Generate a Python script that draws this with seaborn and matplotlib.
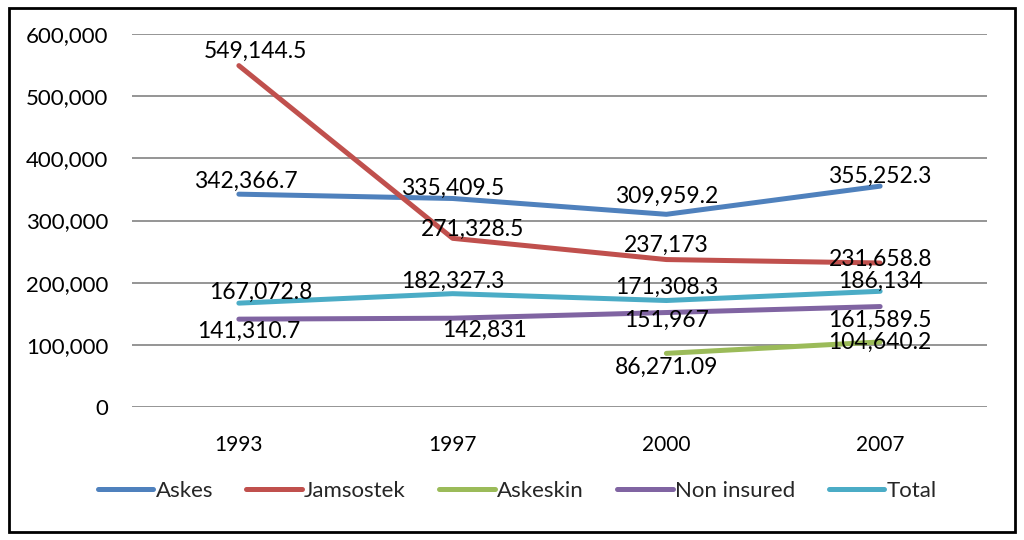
import pandas as pd
import numpy as np
import matplotlib
matplotlib.use("Agg")
import matplotlib.pyplot as plt
import seaborn as sns
from matplotlib.patches import Rectangle
from matplotlib.ticker import FuncFormatter

years = ["1993", "1997", "2000", "2007"]
askes = [342366.7, 335409.5, 309959.2, 355252.3]
jamsostek = [549144.5, 271328.5, 237173, 231658.8]
askeskin = [np.nan, np.nan, 86271.09, 104640.2]
non_insured = [141310.7, 142831, 151967, 161589.5]
total = [167072.8, 182327.3, 171308.3, 186134]

labels = {
    "Askes": ["342,366.7", "335,409.5", "309,959.2", "355,252.3"],
    "Jamsostek": ["549,144.5", "271,328.5", "237,173", "231,658.8"],
    "Askeskin": [None, None, "86,271.09", "104,640.2"],
    "Non insured": ["141,310.7", "142,831", "151,967", "161,589.5"],
    "Total": ["167,072.8", "182,327.3", "171,308.3", "186,134"],
}
# label offsets in pixels (dx, dy)
offsets = {
    "Askes": [(7, 13), (0, 10), (0, 18), (0, 10)],
    "Jamsostek": [(17, 14), (20, 9), (0, 14), (0, 4)],
    "Askeskin": [None, None, (0, -14), (0, 0)],
    "Non insured": [(10, -12), (32, -12), (0, -8), (0, -14)],
    "Total": [(22, 11), (0, 12), (0, 13), (0, 10)],
}

series = {"Askes": askes, "Jamsostek": jamsostek, "Askeskin": askeskin,
          "Non insured": non_insured, "Total": total}
colors = ["#4F81BD", "#C0504D", "#9BBB59", "#8064A2", "#4BACC6"]

rows = []
for name, vals in series.items():
    for y, v in zip(years, vals):
        rows.append({"Year": y, "Value": v, "Series": name})
df = pd.DataFrame(rows)

sns.set_style("white")
plt.rcParams["font.family"] = ["Lato", "DejaVu Sans"]

fig = plt.figure(figsize=(10.24, 5.4), dpi=100)
ax = fig.add_axes([132 / 1024, 1 - 407 / 540, (987 - 132) / 1024, (407 - 34) / 540])

sns.lineplot(data=df.dropna(), x="Year", y="Value", hue="Series",
             palette=colors, linewidth=3.6, sort=False, ax=ax)

ax.set_xlim(-0.5, 3.5)
ax.set_ylim(0, 600000)
ax.set_yticks(range(0, 600001, 100000))
ax.yaxis.set_major_formatter(FuncFormatter(lambda v, p: f"{int(v):,}"))
ax.grid(axis="y", color="#8c8c8c", linewidth=1.3)
ax.set_axisbelow(True)
for s in ax.spines.values():
    s.set_visible(False)
ax.tick_params(axis="y", length=0, labelsize=16, colors="black", pad=17)
ax.tick_params(axis="x", length=0, labelsize=15, colors="black", pad=20)
ax.set_xlabel("")
ax.set_ylabel("")

for name, vals in series.items():
    for i, v in enumerate(vals):
        if labels[name][i] is None:
            continue
        dx, dy = offsets[name][i]
        ax.annotate(labels[name][i], (years[i], v), xytext=(dx, dy),
                    textcoords="offset pixels", ha="center", va="center",
                    fontsize=16.5, color="black")

sns.move_legend(ax, "center", bbox_to_anchor=(0.505, 1 - 491 / 540),
                bbox_transform=fig.transFigure, ncol=5, frameon=False,
                title=None, fontsize=16, handlelength=2.5, handletextpad=0.1,
                columnspacing=1.5)

fig.patches.append(Rectangle((9 / 1024, 1 - 532 / 540), 1006 / 1024, 524 / 540,
                             transform=fig.transFigure, fill=False,
                             edgecolor="black", linewidth=2))

fig.savefig("out.png", dpi=100)
